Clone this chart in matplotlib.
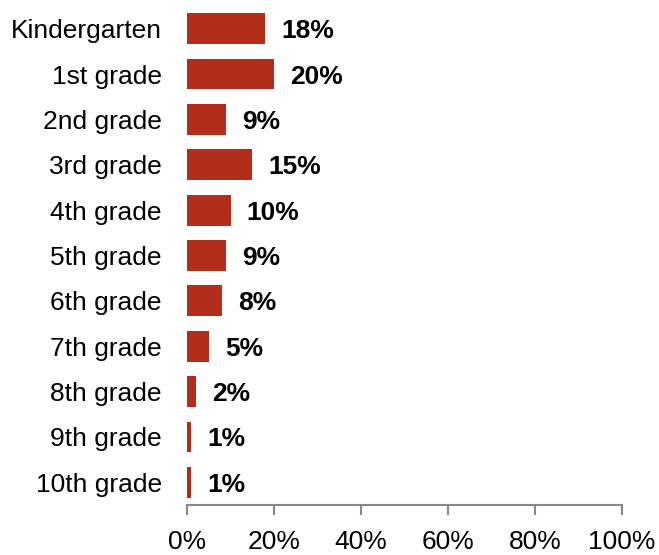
import matplotlib.pyplot as plt
import matplotlib.ticker as mticker

grades = ["Kindergarten", "1st grade", "2nd grade", "3rd grade", "4th grade",
          "5th grade", "6th grade", "7th grade", "8th grade", "9th grade",
          "10th grade"]
shares = [18, 20, 9, 15, 10, 9, 8, 5, 2, 1, 1]

plt.rcParams["font.family"] = ["Liberation Sans", "DejaVu Sans"]

fig = plt.figure(figsize=(6.59, 5.55), dpi=100)
ax = fig.add_axes([187 / 659, 50 / 555, 435 / 659, 499 / 555])

y = list(range(len(grades)))
ax.barh(y, shares, height=0.68, color="#B22D1A")
for yi, v in zip(y, shares):
    ax.annotate(f"{v}%", (v, yi), xytext=(11.5, 0), textcoords="offset points",
                ha="left", va="center_baseline", fontsize=19, fontweight="bold")

ax.set_xlim(0, 100)
ax.set_ylim(len(grades) - 0.5, -0.5)
ax.set_yticks(y)
ax.set_yticklabels(grades, fontsize=19)
ax.tick_params(axis="y", length=0, pad=18)
ax.xaxis.set_major_locator(mticker.MultipleLocator(20))
ax.xaxis.set_major_formatter(mticker.FuncFormatter(lambda v, p: f"{v:.0f}%"))
ax.tick_params(axis="x", labelsize=19, length=7, width=1.5, color="#888888",
               direction="out", pad=11)
for s in ["top", "right", "left"]:
    ax.spines[s].set_visible(False)
ax.spines["bottom"].set_color("#888888")
ax.spines["bottom"].set_linewidth(1.5)

plt.savefig("out.png", dpi=100)
